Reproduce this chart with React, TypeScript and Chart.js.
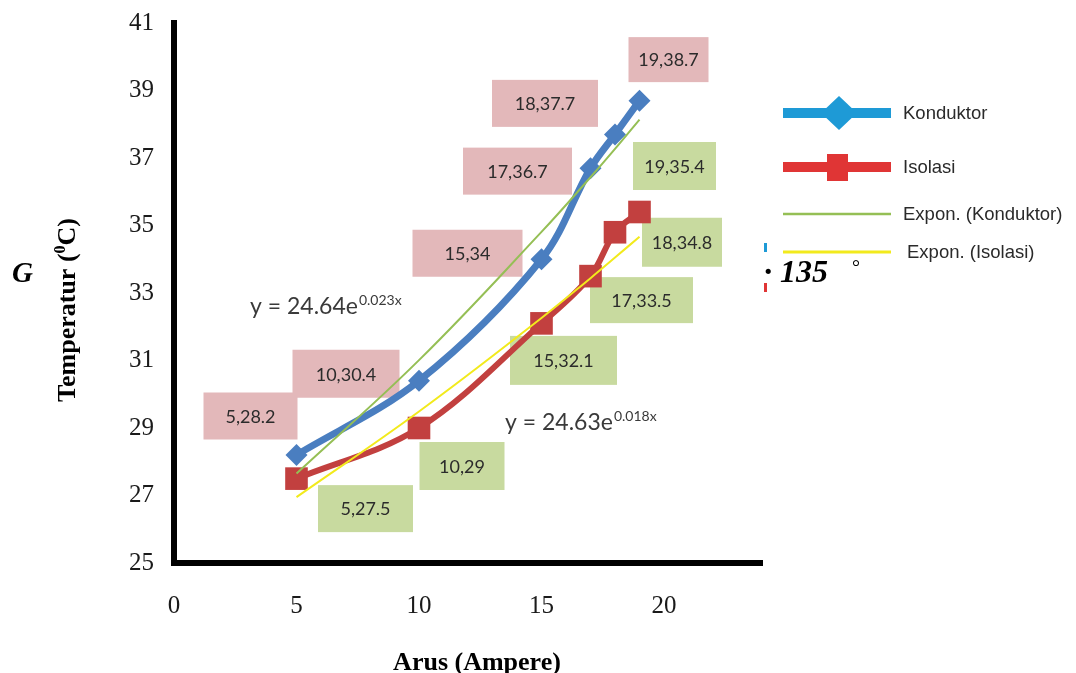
import React, { useEffect, useRef } from 'react';
import { Chart, registerables } from 'chart.js';

Chart.register(...registerables);

// ---- data ----
const currentA = [5, 10, 15, 17, 18, 19];
const konduktorT = [28.2, 30.4, 34, 36.7, 37.7, 38.7];
const isolasiT = [27.5, 29, 32.1, 33.5, 34.8, 35.4];
const konduktorTrend = [27.65, 31.01, 34.81, 36.43, 37.27, 38.14];
const isolasiTrend = [26.95, 29.49, 32.26, 33.44, 34.05, 34.67];
const xTickValues = [0, 5, 10, 15, 20];
const yTickValues = [25, 27, 29, 31, 33, 35, 37, 39, 41];
const seriesNames = ['Konduktor', 'Isolasi', 'Expon. (Konduktor)', 'Expon. (Isolasi)'];
const eqKonduktor = ['y = 24.64e', '0.023x'];
const eqIsolasi = ['y = 24.63e', '0.018x'];

// ---- label placement (offset from point in px, box size) ----
const konduktorBoxes = [
  [-46, -39, 94, 47],
  [-73, -7, 107, 48],
  [-74, -6, 110, 47],
  [-73, 3, 109, 47],
  [-70, -31, 106, 47],
  [29, -41, 80, 45],
];
const isolasiBoxes = [
  [69, 30, 95, 47],
  [43, 38, 85, 48],
  [22, 37, 107, 49],
  [51, 24, 103, 46],
  [67, 10, 80, 49],
  [35, -46, 83, 48],
];

const BLUE = '#4a7ec0';
const RED = '#c2403f';
const GREEN = '#95bf55';
const YELLOW = '#f2ea1c';
const PINK_BOX = '#e3b8ba';
const GREEN_BOX = '#c8da9f';

const annotPlugin = {
  id: 'annot',
  beforeDatasetsDraw(chart: any) {
    const { ctx } = chart;
    const xs = chart.scales.x;
    const ys = chart.scales.y;
    const draw = (vals: number[], boxes: number[][], fill: string) => {
      vals.forEach((v, i) => {
        const px = xs.getPixelForValue(currentA[i]);
        const py = ys.getPixelForValue(v);
        const [dx, dy, w, h] = boxes[i];
        const cx = px + dx;
        const cy = py + dy;
        ctx.save();
        ctx.fillStyle = fill;
        ctx.fillRect(cx - w / 2, cy - h / 2, w, h);
        ctx.fillStyle = '#2b2b2b';
        ctx.font = '18px Lato';
        ctx.textAlign = 'center';
        ctx.textBaseline = 'middle';
        ctx.fillText(`${currentA[i]},${v}`, cx, cy + 1);
        ctx.restore();
      });
    };
    draw(konduktorT, konduktorBoxes, PINK_BOX);
    draw(isolasiT, isolasiBoxes, GREEN_BOX);
  },
  afterDraw(chart: any) {
    const { ctx, chartArea } = chart;
    ctx.save();
    // corner fill of axes
    ctx.fillStyle = '#000';
    ctx.fillRect(chartArea.left - 3, chartArea.bottom - 3, 6, 6);

    // equations
    const eq = (parts: string[], x: number, y: number) => {
      ctx.fillStyle = '#3a3a3a';
      ctx.textAlign = 'left';
      ctx.textBaseline = 'alphabetic';
      ctx.font = '23px Lato';
      ctx.fillText(parts[0], x, y);
      const w = ctx.measureText(parts[0]).width;
      ctx.font = '14px Lato';
      ctx.fillText(parts[1], x + w + 1, y - 9);
    };
    eq(eqKonduktor, 250, 314);
    eq(eqIsolasi, 505, 430);

    // axis titles
    ctx.fillStyle = '#000';
    ctx.font = 'bold 26px "Liberation Serif"';
    ctx.textBaseline = 'alphabetic';
    ctx.textAlign = 'center';
    ctx.fillText('Arus (Ampere)', 477, 670);

    ctx.save();
    ctx.translate(75, 310);
    ctx.rotate(-Math.PI / 2);
    const p1 = 'Temperatur (';
    const p2 = '0';
    const p3 = 'C)';
    ctx.font = 'bold 26px "Liberation Serif"';
    const w1 = ctx.measureText(p1).width;
    const w3 = ctx.measureText(p3).width;
    ctx.font = 'bold 16px "Liberation Serif"';
    const w2 = ctx.measureText(p2).width;
    const total = w1 + w2 + w3;
    let sx = -total / 2;
    ctx.textAlign = 'left';
    ctx.font = 'bold 26px "Liberation Serif"';
    ctx.fillText(p1, sx, 0);
    sx += w1;
    ctx.font = 'bold 16px "Liberation Serif"';
    ctx.fillText(p2, sx, -10);
    sx += w2;
    ctx.font = 'bold 26px "Liberation Serif"';
    ctx.fillText(p3, sx, 0);
    ctx.restore();

    // stray texts
    ctx.fillStyle = '#000';
    ctx.textAlign = 'left';
    ctx.font = 'bold italic 29px "Liberation Serif"';
    ctx.fillText('G', 12, 282);
    ctx.font = 'bold italic 32px "Liberation Serif"';
    ctx.fillText('·', 764, 282);
    ctx.fillText('135', 780, 282);
    ctx.font = '20px "Liberation Serif"';
    ctx.fillText('°', 852, 274);

    // legend
    const lx0 = 783;
    const lx1 = 891;
    const rows = [
      { y: 113, color: '#1e9ad6', w: 10, marker: 'diamond', tx: 903 },
      { y: 167, color: '#e03535', w: 10, marker: 'square', tx: 903 },
      { y: 214, color: GREEN, w: 2.5, marker: '', tx: 903 },
      { y: 252, color: YELLOW, w: 3, marker: '', tx: 907 },
    ];
    rows.forEach((r, i) => {
      ctx.strokeStyle = r.color;
      ctx.lineWidth = r.w;
      ctx.beginPath();
      ctx.moveTo(lx0, r.y);
      ctx.lineTo(lx1, r.y);
      ctx.stroke();
      ctx.fillStyle = r.color;
      if (r.marker === 'diamond') {
        ctx.beginPath();
        ctx.moveTo(839, r.y - 17);
        ctx.lineTo(857, r.y);
        ctx.lineTo(839, r.y + 17);
        ctx.lineTo(821, r.y);
        ctx.closePath();
        ctx.fill();
      } else if (r.marker === 'square') {
        ctx.fillRect(827, r.y - 13, 21, 27);
      }
      ctx.fillStyle = '#2a2a2a';
      ctx.font = '18.5px "Liberation Sans"';
      ctx.textBaseline = 'middle';
      ctx.fillText(seriesNames[i], r.tx, r.y + 1);
    });
    // small stray legend fragments
    ctx.fillStyle = '#1e9ad6';
    ctx.fillRect(764, 243, 3, 9);
    ctx.fillStyle = '#e03535';
    ctx.fillRect(764, 283, 3, 9);
    ctx.restore();
  },
};

export default function App() {
  const ref = useRef<HTMLCanvasElement | null>(null);
  useEffect(() => {
    if (!ref.current) return;
    const pts = (ys: number[]) => currentA.map((x, i) => ({ x, y: ys[i] }));
    const chart = new Chart(ref.current, {
      type: 'line',
      data: {
        datasets: [
          {
            label: seriesNames[2],
            data: pts(konduktorTrend),
            borderColor: GREEN,
            borderWidth: 2,
            pointRadius: 0,
            tension: 0.4,
          },
          {
            label: seriesNames[3],
            data: pts(isolasiTrend),
            borderColor: YELLOW,
            borderWidth: 2,
            pointRadius: 0,
            tension: 0.4,
          },
          {
            label: seriesNames[0],
            data: pts(konduktorT),
            borderColor: BLUE,
            backgroundColor: BLUE,
            borderWidth: 7,
            pointStyle: 'rectRot',
            pointRadius: 11,
            pointBorderWidth: 0,
            tension: 0.35,
          },
          {
            label: seriesNames[1],
            data: pts(isolasiT),
            borderColor: RED,
            backgroundColor: RED,
            borderWidth: 6,
            pointStyle: 'rect',
            pointRadius: 16,
            pointBorderWidth: 0,
            tension: 0.35,
          },
        ],
      },
      options: {
        animation: false,
        responsive: false,
        devicePixelRatio: 1,
        layout: { padding: { left: 0, top: 23, right: 314, bottom: 0 } },
        plugins: { legend: { display: false }, tooltip: { enabled: false } },
        scales: {
          x: {
            type: 'linear',
            position: 'bottom',
            min: 0,
            max: 24,
            afterBuildTicks: (s: any) => {
              s.ticks = xTickValues.map((v) => ({ value: v }));
            },
            afterFit: (s: any) => {
              s.height = 110;
              s.paddingLeft = 0;
              s.paddingRight = 0;
            },
            grid: { display: false, drawTicks: false },
            border: { display: true, color: '#000', width: 6 },
            ticks: {
              padding: 28,
              color: '#1a1a1a',
              font: { family: '"Liberation Serif"', size: 25 },
            },
          },
          y: {
            type: 'linear',
            min: 25,
            max: 41,
            afterBuildTicks: (s: any) => {
              s.ticks = yTickValues.map((v) => ({ value: v }));
            },
            afterFit: (s: any) => {
              s.width = 174;
              s.paddingTop = 0;
              s.paddingBottom = 0;
            },
            grid: { display: false, drawTicks: false },
            border: { display: true, color: '#000', width: 6 },
            ticks: {
              padding: 20,
              color: '#1a1a1a',
              font: { family: '"Liberation Serif"', size: 25 },
            },
          },
        },
      },
      plugins: [annotPlugin],
    });
    return () => chart.destroy();
  }, []);
  return (
    <div style={{ position: 'fixed', left: 0, top: 0, width: 1076, height: 673, background: '#fff' }}>
      <canvas ref={ref} width={1076} height={673} style={{ display: 'block' }} />
    </div>
  );
}
